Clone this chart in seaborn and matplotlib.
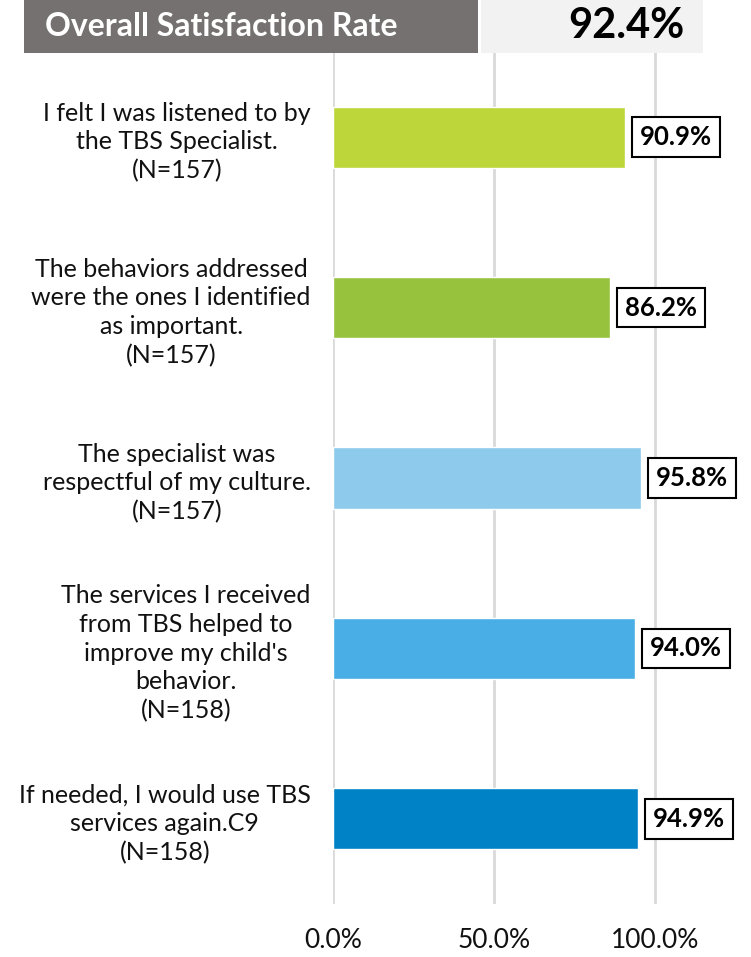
import pandas as pd
import seaborn as sns
import matplotlib.pyplot as plt
from matplotlib.patches import Rectangle
from matplotlib.ticker import PercentFormatter

# Chart data
questions = [
    "I felt I was listened to by\nthe TBS Specialist.\n(N=157)",
    "The behaviors addressed\nwere the ones I identified\nas important.\n(N=157)",
    "The specialist was\nrespectful of my culture.\n(N=157)",
    "The services I received\nfrom TBS helped to\nimprove my child's\nbehavior.\n(N=158)",
    "If needed, I would use TBS\nservices again.C9\n(N=158)",
]
rates = [90.9, 86.2, 95.8, 94.0, 94.9]
bar_colors = ["#BDD73A", "#97C23E", "#8DCAEC", "#4AAEE6", "#0083C6"]
header_label = "Overall Satisfaction Rate"
overall_rate = 92.4
x_ticks = [0, 50, 100]

df = pd.DataFrame({"question": questions, "rate": rates})

sns.set_style("white")
plt.rcParams["font.family"] = ["Lato", "DejaVu Sans"]

fig = plt.figure(figsize=(7.51, 9.57), dpi=100)
ax = fig.add_axes([333 / 751, 1 - 904 / 957, 370 / 751, 852 / 957])

sns.barplot(data=df, x="rate", y="question", hue="question", palette=bar_colors,
            orient="h", width=0.36, saturation=1, legend=False, ax=ax, zorder=3)

ax.set_xlim(0, 115)
ax.set_ylim(4.5, -0.5)
ax.set_xticks(x_ticks)
ax.xaxis.set_major_formatter(PercentFormatter(decimals=1))
ax.grid(axis="x", color="#D9D9D9", linewidth=2, zorder=0)
ax.grid(axis="y", visible=False)
for s in ax.spines.values():
    s.set_visible(False)
ax.set_xlabel("")
ax.set_ylabel("")
ax.tick_params(axis="x", labelsize=19, pad=17, length=0, colors="#111111")
ax.tick_params(axis="y", labelsize=18, pad=16, length=0, colors="#111111")
for lbl in ax.get_yticklabels():
    lbl.set_multialignment("center")
    lbl.set_linespacing(1.3)

# Value labels in boxes
for i, v in enumerate(rates):
    ax.text(v + 4.5, i, f"{v:.1f}%", ha="left", va="center", fontsize=18.5,
            fontweight="bold", color="black", zorder=5,
            bbox=dict(boxstyle="square,pad=0.3", facecolor="white",
                      edgecolor="black", linewidth=1.5))

# Header bar
fig.patches.append(Rectangle((24 / 751, 1 - 53 / 957), 454 / 751, 53 / 957,
                             transform=fig.transFigure, facecolor="#767171",
                             edgecolor="none", zorder=10))
fig.patches.append(Rectangle((481 / 751, 1 - 53 / 957), 222 / 751, 53 / 957,
                             transform=fig.transFigure, facecolor="#F2F2F2",
                             edgecolor="none", zorder=10))
fig.text(45 / 751, 1 - 26 / 957, header_label, color="white", fontsize=23,
         fontweight="bold", ha="left", va="center", zorder=11)
fig.text(685 / 751, 1 - 26 / 957, f"{overall_rate:.1f}%", color="black",
         fontsize=30, fontweight="bold", ha="right", va="center", zorder=11)

plt.savefig("out.png", dpi=100)
